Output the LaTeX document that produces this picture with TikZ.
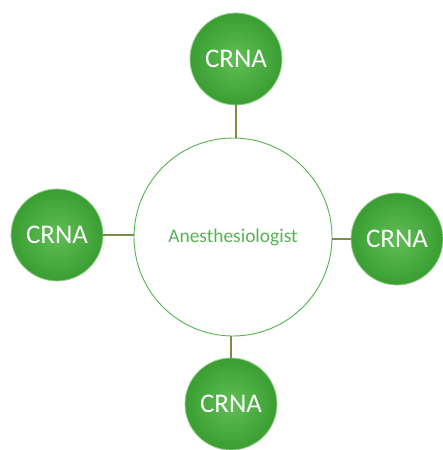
\documentclass[tikz,border=0pt]{standalone}
\usepackage{fontspec}
\setmainfont{Carlito}
\usepackage{tikz}
\usetikzlibrary{positioning}
\definecolor{crnagreen}{RGB}{58,158,50}
\definecolor{crnalight}{RGB}{96,190,84}
\definecolor{rimgreen}{RGB}{150,210,140}
\definecolor{linkolive}{RGB}{125,140,70}
\definecolor{textgreen}{RGB}{85,180,80}
\tikzset{
crna/.style={circle,minimum size=92bp,inner sep=0pt,inner color=crnalight,outer color=crnagreen,draw=rimgreen,line width=0.8bp,text=white,font=\fontsize{27}{29}\selectfont},
anes/.style={circle,minimum size=198bp,inner sep=0pt,fill=white,draw=textgreen,line width=0.9bp,text=textgreen,font=\fontsize{19.5}{21}\selectfont}
}
\begin{document}
\begin{tikzpicture}[x=1bp,y=-1bp]
\useasboundingbox (0,0) rectangle (443,450);
\node[anes] (A) at (233,237) {Anesthesiologist};
\node[crna] (B) at (236,59) {CRNA};
\node[crna] (C) at (57,235) {CRNA};
\node[crna] (D) at (397,239) {CRNA};
\node[crna] (E) at (231,404) {CRNA};
%\node (F) at (233,237) {};
\path[draw=linkolive,line width=1.5bp]
(B) edge (B|-A.north)
(C) edge (A.west|-C)
(D) edge (A.east|-D)
(E) edge (E|-A.south);
\end{tikzpicture}
\end{document}
